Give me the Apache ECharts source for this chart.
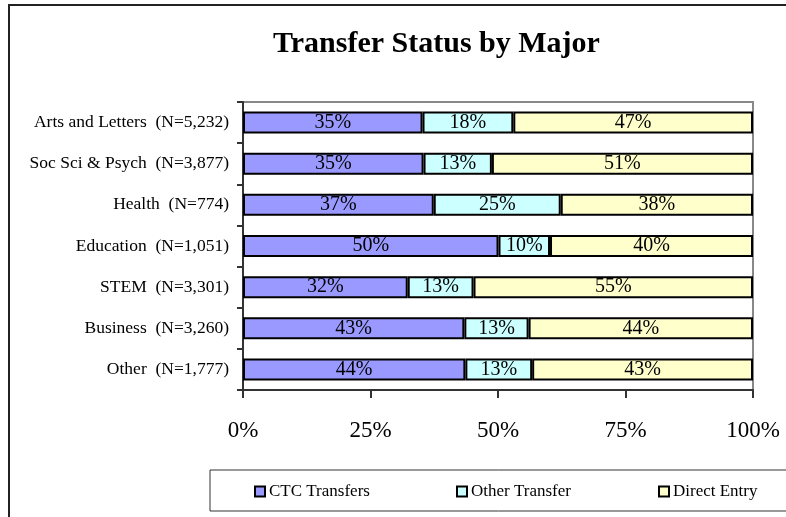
<!DOCTYPE html>
<html>
<head>
<meta charset="utf-8">
<script src="https://cdn.jsdelivr.net/npm/echarts@6/dist/echarts.min.js"></script>
<style>
  html, body { margin: 0; padding: 0; background: #fff; }
  #main { width: 786px; height: 517px; }
</style>
</head>
<body>
<div id="main"></div>
<script>
// categories, top to bottom
var majors = [
  'Arts and Letters  (N=5,232)',
  'Soc Sci & Psych  (N=3,877)',
  'Health  (N=774)',
  'Education  (N=1,051)',
  'STEM  (N=3,301)',
  'Business  (N=3,260)',
  'Other  (N=1,777)'
];
// percentages
var ctcTransfers  = [35.2, 35.4, 37.4, 50.1, 32.3, 43.4, 43.6];
var otherTransfer = [17.8, 13.4, 24.9, 10.1, 12.9, 12.6, 13.1];
var directEntry   = [47.0, 51.2, 37.7, 39.8, 54.8, 44.0, 43.3];
var seriesNames = ['CTC Transfers', 'Other Transfer', 'Direct Entry'];
var seriesColors = ['#9999ff', '#ccffff', '#ffffcc'];
var xTicks = [0, 25, 50, 75, 100];

var serif = "'Liberation Serif', 'Times New Roman', serif";

var myChart = echarts.init(document.getElementById('main'));

function makeSeries(name, data, color) {
  return {
    name: name,
    type: 'bar',
    stack: 'total',
    barWidth: 22,
    data: data,
    itemStyle: { color: color, borderColor: '#000', borderWidth: 2 },
    label: {
      show: true,
      position: 'inside',
      color: '#000',
      fontFamily: serif,
      fontSize: 20,
      formatter: function (p) { return Math.round(p.value) + '%'; }
    }
  };
}

// one legend per item so they sit at fixed spots like the original
var legendLeft = [254, 456, 658];
var legends = seriesNames.map(function (n, i) {
  return {
    data: [n],
    left: legendLeft[i],
    top: 483,
    padding: 0,
    icon: 'rect',
    itemWidth: 10,
    itemHeight: 10,
    itemGap: 0,
    itemStyle: { borderColor: '#000', borderWidth: 2 },
    textStyle: { fontFamily: serif, fontSize: 17, color: '#000', padding: [0, 0, 0, -1] },
    selectedMode: false
  };
});

myChart.setOption({
  animation: false,
  title: {
    text: 'Transfer Status by Major',
    left: 268,
    top: 24,
    textStyle: { fontFamily: serif, fontWeight: 'bold', fontSize: 30, color: '#000' }
  },
  graphic: [
    // outer frame (left and top edges visible)
    {
      type: 'polyline',
      shape: { points: [[9, 600], [9, 5], [800, 5]] },
      style: { stroke: '#222', lineWidth: 2, fill: null }
    },
    // legend box
    {
      type: 'rect',
      shape: { x: 210, y: 470, width: 600, height: 41 },
      style: { stroke: '#333', lineWidth: 1, fill: null }
    }
  ],
  legend: legends,
  grid: {
    left: 243,
    right: 33,
    top: 102,
    bottom: 127,
    show: true,
    borderColor: '#888',
    borderWidth: 2
  },
  xAxis: {
    type: 'value',
    min: 0,
    max: 100,
    interval: 25,
    splitLine: { show: false },
    axisLine: { show: true, lineStyle: { color: '#333', width: 2 } },
    axisTick: { show: true, length: 8, lineStyle: { color: '#333', width: 2 } },
    axisLabel: {
      margin: 29,
      fontFamily: serif,
      fontSize: 23,
      color: '#000',
      formatter: function (v) { return xTicks.indexOf(v) >= 0 ? v + '%' : ''; }
    }
  },
  yAxis: {
    type: 'category',
    inverse: true,
    data: majors,
    axisLine: { show: true, lineStyle: { color: '#333', width: 2 } },
    axisTick: { show: true, length: 6, lineStyle: { color: '#333', width: 2 } },
    axisLabel: { margin: 14, fontFamily: serif, fontSize: 17.5, color: '#000' }
  },
  series: [
    makeSeries(seriesNames[0], ctcTransfers, seriesColors[0]),
    makeSeries(seriesNames[1], otherTransfer, seriesColors[1]),
    makeSeries(seriesNames[2], directEntry, seriesColors[2])
  ]
});
</script>
</body>
</html>
